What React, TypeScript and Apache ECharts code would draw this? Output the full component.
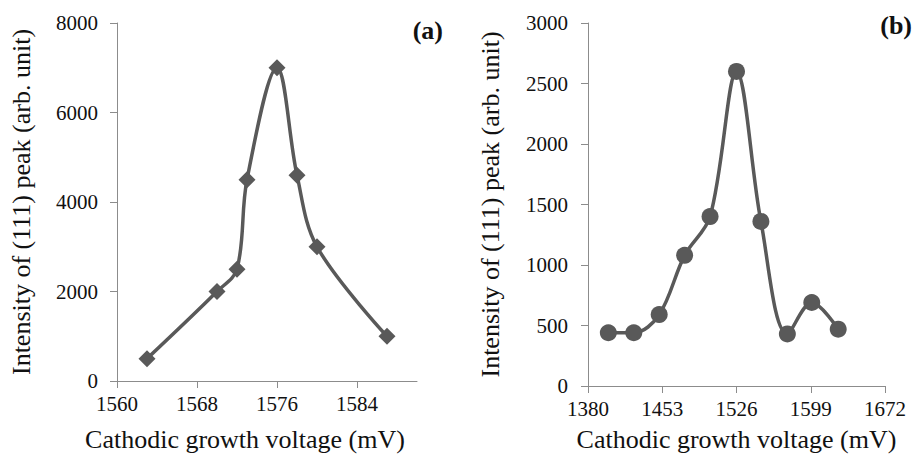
import React, { useEffect, useRef } from "react";
import * as echarts from "echarts";

const voltageA = [1563, 1570, 1572, 1573, 1576, 1578, 1580, 1587];
const intensityA = [500, 2000, 2500, 4500, 7000, 4600, 3000, 1000];
const xTicksA = [1560, 1568, 1576, 1584];

const voltageB = [1400, 1425, 1450, 1475, 1500, 1526, 1550, 1576, 1600, 1626];
const intensityB = [440, 440, 590, 1080, 1400, 2600, 1360, 430, 690, 470];
const xTicksB = [1380, 1453, 1526, 1599, 1672];

const xTitle = "Cathodic growth voltage (mV)";
const yTitle = "Intensity of (111) peak (arb. unit)";
const panelLabels = ["(a)", "(b)"];

const FONT = "Liberation Serif";
const AXIS_COLOR = "#8c8c8c";
const LINE_COLOR = "#595959";
const TEXT_COLOR = "#111111";

export default function App() {
  const ref = useRef<HTMLDivElement>(null);
  useEffect(() => {
    document.body.style.margin = "0";
    if (!ref.current) return;
    const chart = echarts.init(ref.current, null, { renderer: "svg" });
    const nameStyle = { fontFamily: FONT, fontSize: 26, color: TEXT_COLOR };
    const axisCommon = {
      axisLine: { show: true, lineStyle: { color: AXIS_COLOR, width: 1 } },
      axisTick: { show: true, length: 7, lineStyle: { color: AXIS_COLOR } },
      splitLine: { show: false },
      nameTextStyle: nameStyle,
    };
    const labelCommon = { fontFamily: FONT, fontSize: 21, color: TEXT_COLOR };
    chart.setOption({
      animation: false,
      backgroundColor: "#ffffff",
      grid: [
        { left: 117, top: 23, width: 300, height: 358, outerBoundsMode: "none" },
        { left: 588, top: 23, width: 297, height: 363, outerBoundsMode: "none" },
      ],
      xAxis: [
        {
          ...axisCommon,
          gridIndex: 0,
          type: "value",
          min: 1560,
          max: 1590,
          name: xTitle,
          nameLocation: "middle",
          nameGap: 45,
          nameTextStyle: { ...nameStyle, padding: [0, 44, 0, 0] },
          axisTick: { ...axisCommon.axisTick, customValues: xTicksA },
          axisLabel: { ...labelCommon, margin: 12, customValues: xTicksA, formatter: (v: number) => String(v) },
        },
        {
          ...axisCommon,
          gridIndex: 1,
          type: "value",
          min: 1380,
          max: 1672,
          name: xTitle,
          nameLocation: "middle",
          nameGap: 40,
          axisTick: { ...axisCommon.axisTick, customValues: xTicksB },
          axisLabel: { ...labelCommon, margin: 12, customValues: xTicksB, formatter: (v: number) => String(v) },
        },
      ],
      yAxis: [
        {
          ...axisCommon,
          gridIndex: 0,
          type: "value",
          min: 0,
          max: 8000,
          interval: 2000,
          name: yTitle,
          nameLocation: "middle",
          nameGap: 83,
          axisLabel: { ...labelCommon, margin: 19, formatter: (v: number) => String(v) },
        },
        {
          ...axisCommon,
          gridIndex: 1,
          type: "value",
          min: 0,
          max: 3000,
          interval: 500,
          name: yTitle,
          nameLocation: "middle",
          nameGap: 85,
          axisLabel: { ...labelCommon, margin: 20, formatter: (v: number) => String(v) },
        },
      ],
      series: [
        {
          type: "line",
          xAxisIndex: 0,
          yAxisIndex: 0,
          data: voltageA.map((x, i) => [x, intensityA[i]]),
          smooth: 0.35,
          symbol: "diamond",
          symbolSize: 17,
          lineStyle: { color: LINE_COLOR, width: 3.5 },
          itemStyle: { color: LINE_COLOR },
        },
        {
          type: "line",
          xAxisIndex: 1,
          yAxisIndex: 1,
          data: voltageB.map((x, i) => [x, intensityB[i]]),
          smooth: 0.35,
          symbol: "circle",
          symbolSize: 17,
          lineStyle: { color: LINE_COLOR, width: 3.5 },
          itemStyle: { color: LINE_COLOR },
        },
      ],
      graphic: [
        {
          type: "text",
          x: 443,
          y: 30,
          style: {
            text: panelLabels[0],
            font: `bold 26px ${FONT}`,
            fill: TEXT_COLOR,
            align: "right",
            verticalAlign: "middle",
          },
        },
        {
          type: "text",
          x: 912,
          y: 25,
          style: {
            text: panelLabels[1],
            font: `bold 26px ${FONT}`,
            fill: TEXT_COLOR,
            align: "right",
            verticalAlign: "middle",
          },
        },
      ],
    });
    return () => chart.dispose();
  }, []);
  return <div ref={ref} style={{ width: 914, height: 456 }} />;
}
